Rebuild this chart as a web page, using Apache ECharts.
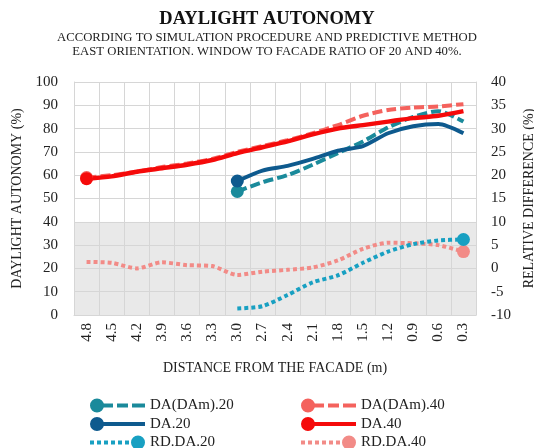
<!DOCTYPE html>
<html>
<head>
<meta charset="utf-8">
<script src="https://cdn.jsdelivr.net/npm/echarts@6/dist/echarts.min.js"></script>
<style>
  html, body { margin: 0; padding: 0; background: #fff; }
  #chart { width: 534px; height: 448px; }
</style>
</head>
<body>
<div id="chart"></div>
<script>
  // distance from the facade (m)
  var distances = ['4.8', '4.5', '4.2', '3.9', '3.6', '3.3', '3.0', '2.7', '2.4', '2.1', '1.8', '1.5', '1.2', '0.9', '0.6', '0.3']

  // daylight autonomy (%) - left axis
  var daDam20 = [null, null, null, null, null, null, 53, 57, 60, 64.5, 69.5, 74.5, 80.5, 85, 87.5, 83]
  var daDam40 = [59, 60, 61.5, 63.5, 65, 67, 70, 72.5, 75, 78, 81.5, 85.5, 88, 89, 89.5, 90.5]
  var da20 = [null, null, null, null, null, null, 57.5, 62, 64, 67, 70.5, 72.5, 78, 81, 82, 78]
  var da40 = [58.5, 59.5, 61.5, 63, 64.5, 66.5, 69.5, 72, 74.5, 77.5, 80, 81.5, 83, 84.5, 85.5, 87.5]

  // relative difference (%) - right axis
  var rd20 = [null, null, null, null, null, null, -8.6, -8.1, -5.7, -3, -1.5, 1.2, 3.6, 5.2, 6, 6.2]
  var rd40 = [1.4, 1.2, 0, 1.3, 0.7, 0.5, -1.4, -0.7, -0.3, 0.2, 1.7, 4.2, 5.5, 5.4, 5.0, 3.6]

  var leftTicks = [0, 100, 10]
  var rightTicks = [-10, 40, 5]

  var FONT = '"Liberation Serif", "Times New Roman", serif'
  var GRID_COLOR = '#d6d6d6'

  // legend icons (55 x 14), everything drawn clockwise so overlaps stay filled
  var CIRCLE_L = 'M0 7 A7 7 0 1 1 14 7 A7 7 0 1 1 0 7 Z '
  var CIRCLE_R = 'M41 7 A7 7 0 1 1 55 7 A7 7 0 1 1 41 7 Z '
  var ICON_DASH = 'path://' + CIRCLE_L + 'M12 5 H23 V9 H12 Z M27 5 H38 V9 H27 Z M42 5 H55 V9 H42 Z'
  var ICON_SOLID = 'path://' + CIRCLE_L + 'M7 5 H55 V9 H7 Z'
  var ICON_DOT = 'path://' + CIRCLE_R + 'M0 5 H4 V9 H0 Z M7 5 H11 V9 H7 Z M14 5 H18 V9 H14 Z M21 5 H25 V9 H21 Z M28 5 H32 V9 H28 Z M35 5 H39 V9 H35 Z'

  function firstIndex(arr) {
    for (var i = 0; i < arr.length; i++) {
      if (arr[i] !== null) return i
    }
    return 0
  }

  function lineSeries(name, data, color, dash, width, yAxisIndex, markAt) {
    return {
      name: name,
      type: 'line',
      yAxisIndex: yAxisIndex,
      data: data,
      smooth: 0.25,
      symbol: 'circle',
      showAllSymbol: true,
      symbolSize: function (val, params) {
        return params.dataIndex === markAt ? 13 : 0
      },
      itemStyle: { color: color, borderWidth: 0 },
      lineStyle: { color: color, width: width, type: dash, cap: 'butt' },
      emphasis: { disabled: true },
    }
  }

  function legendColumn(left, names, icons) {
    return {
      orient: 'vertical',
      left: left,
      top: 398,
      height: 60,
      padding: 0,
      itemWidth: 55,
      itemHeight: 14,
      itemGap: 3.5,
      itemStyle: { borderWidth: 0 },
      textStyle: { fontFamily: FONT, fontSize: 15, color: '#222' },
      data: names.map(function (n, i) {
        return { name: n, icon: icons[i] }
      }),
    }
  }

  var chart = echarts.init(document.getElementById('chart'))

  chart.setOption({
    backgroundColor: '#fff',
    animation: false,
    textStyle: { fontFamily: FONT },
    title: [
      {
        text: 'DAYLIGHT AUTONOMY',
        left: 'center',
        top: 5,
        textStyle: { fontFamily: FONT, fontSize: 18.5, fontWeight: 'bold', color: '#111' },
      },
      {
        text: 'ACCORDING TO SIMULATION PROCEDURE AND PREDICTIVE METHOD',
        left: 'center',
        top: 31,
        padding: 0,
        textStyle: { fontFamily: FONT, fontSize: 12.7, fontWeight: 'normal', color: '#222' },
      },
      {
        text: 'EAST ORIENTATION. WINDOW TO FACADE RATIO OF 20 AND 40%.',
        left: 'center',
        top: 45,
        padding: 0,
        textStyle: { fontFamily: FONT, fontSize: 12.7, fontWeight: 'normal', color: '#222' },
      },
    ],
    legend: [
      legendColumn(90, ['DA(DAm).20', 'DA.20', 'RD.DA.20'], [ICON_DASH, ICON_SOLID, ICON_DOT]),
      legendColumn(301, ['DA(DAm).40', 'DA.40', 'RD.DA.40'], [ICON_DASH, ICON_SOLID, ICON_DOT]),
    ],
    grid: {
      left: 74,
      right: 58,
      top: 82,
      bottom: 133,
      containLabel: false,
      outerBoundsMode: 'none',
    },
    xAxis: {
      type: 'category',
      data: distances,
      boundaryGap: true,
      name: 'DISTANCE FROM THE FACADE (m)',
      nameLocation: 'middle',
      nameGap: 46,
      nameTextStyle: { fontFamily: FONT, fontSize: 14, color: '#222' },
      axisLine: { lineStyle: { color: GRID_COLOR, width: 1 } },
      axisTick: { show: false },
      axisLabel: { rotate: 90, interval: 0, margin: 8, fontFamily: FONT, fontSize: 15, color: '#222' },
      splitLine: { show: true, interval: 0, lineStyle: { color: GRID_COLOR, width: 1 } },
    },
    yAxis: [
      {
        type: 'value',
        min: leftTicks[0],
        max: leftTicks[1],
        interval: leftTicks[2],
        name: 'DAYLIGHT AUTONOMY (%)',
        nameLocation: 'middle',
        nameRotate: 90,
        nameGap: 50,
        nameTextStyle: { fontFamily: FONT, fontSize: 14, color: '#222' },
        axisLine: { show: true, lineStyle: { color: GRID_COLOR } },
        axisTick: { show: false },
        axisLabel: { margin: 16, fontFamily: FONT, fontSize: 15, color: '#222' },
        splitLine: { lineStyle: { color: GRID_COLOR, width: 1 } },
        splitArea: {
          show: true,
          areaStyle: {
            color: ['#e9e9e9', '#e9e9e9', '#e9e9e9', '#e9e9e9', '#fff', '#fff', '#fff', '#fff', '#fff', '#fff'],
          },
        },
      },
      {
        type: 'value',
        position: 'right',
        min: rightTicks[0],
        max: rightTicks[1],
        interval: rightTicks[2],
        name: 'RELATIVE DIFFERENCE (%)',
        nameLocation: 'middle',
        nameRotate: 90,
        nameGap: 44,
        nameTextStyle: { fontFamily: FONT, fontSize: 14, color: '#222' },
        axisLine: { show: true, lineStyle: { color: GRID_COLOR } },
        axisTick: { show: false },
        axisLabel: { margin: 15, fontFamily: FONT, fontSize: 15, color: '#222' },
        splitLine: { show: false },
      },
    ],
    series: [
      lineSeries('RD.DA.40', rd40, '#f28b87', [4, 3], 4, 1, rd40.length - 1),
      lineSeries('RD.DA.20', rd20, '#18a0c2', [4, 3], 4, 1, rd20.length - 1),
      lineSeries('DA(DAm).40', daDam40, '#f4625d', [10, 4], 4, 0, firstIndex(daDam40)),
      lineSeries('DA(DAm).20', daDam20, '#1a8a9b', [10, 4], 4, 0, firstIndex(daDam20)),
      lineSeries('DA.40', da40, '#f50a0a', 'solid', 4.5, 0, firstIndex(da40)),
      lineSeries('DA.20', da20, '#0e5a8e', 'solid', 4, 0, firstIndex(da20)),
    ],
  })
</script>
</body>
</html>
